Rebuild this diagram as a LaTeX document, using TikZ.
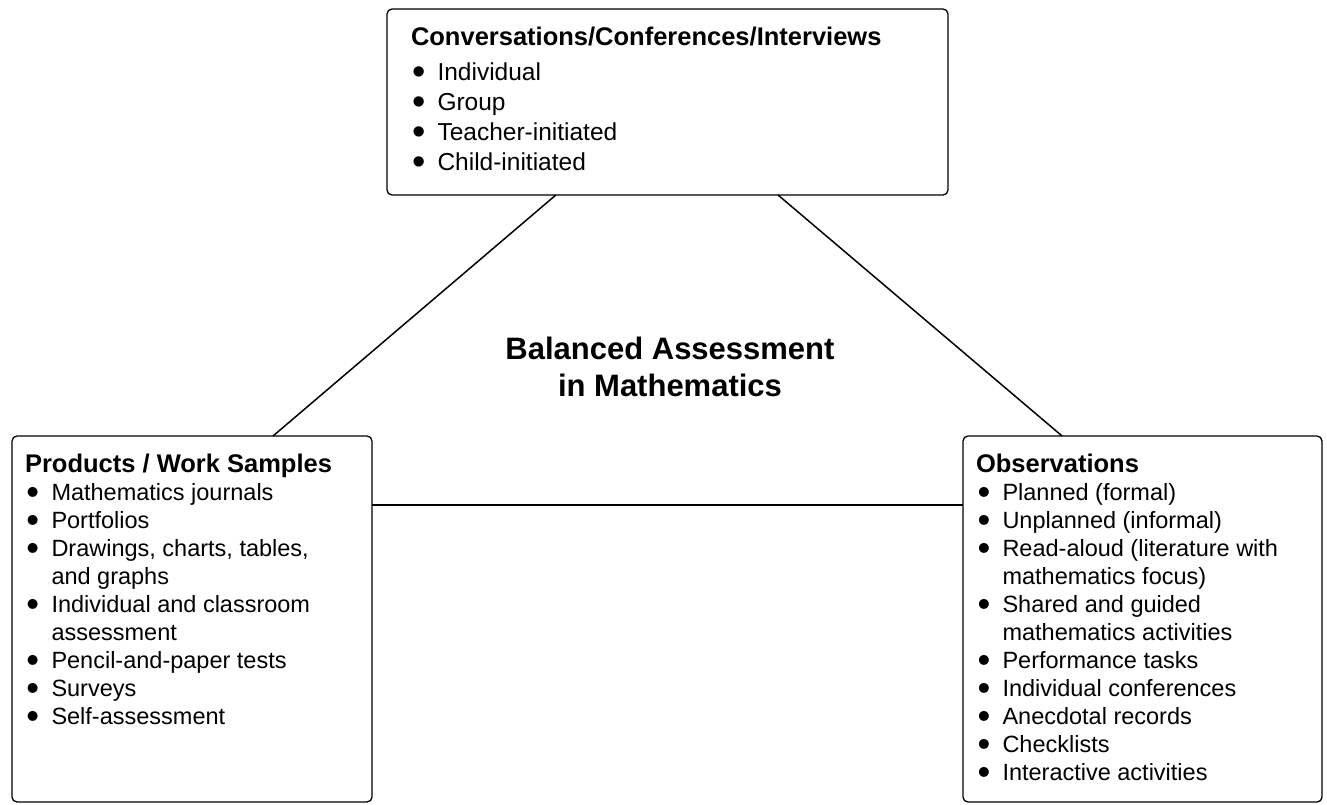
\documentclass[tikz,border=0pt]{standalone}
\usepackage{fontspec}
\setmainfont{Liberation Sans}
\usepackage{graphicx}
\usetikzlibrary{calc}
\newcommand{\bigbul}{\smash{\raisebox{-4pt}{\scalebox{1.55}{\textbullet}}}}
\newcommand{\bitem}[1]{\makebox[26.5pt][l]{\hspace{1.5pt}\bigbul}#1}
\newcommand{\bcont}[1]{\hspace{26.5pt}#1}
\begin{document}
\begin{tikzpicture}[x=1pt,y=-1pt,
  box/.style={draw, rounded corners=5pt, line width=1.3pt, minimum width=#1, inner sep=0pt, outer sep=0pt, anchor=north west},
  conn/.style={line width=1.5pt},
  listtext/.style={anchor=base west, inner sep=0pt, outer sep=0pt}]
\useasboundingbox (0,0) rectangle (1327,804);
% boxes
\node[box=561pt, minimum height=186pt] (top) at (387,9) {};
\node[box=360pt, minimum height=366pt] (left) at (12,436) {};
\node[box=359pt, minimum height=366pt] (right) at (963,436) {};
% connectors
\draw[conn] ($(top.south west)!0.301!(top.south east)$) -- ($(left.north west)!0.725!(left.north east)$);
\draw[conn] ($(top.south west)!0.697!(top.south east)$) -- ($(right.north west)!0.276!(right.north east)$);
\coordinate (hl) at ($(left.north east)!0.1885!(left.south east)$);
\draw[conn] (hl) -- (hl -| right.west);
% title
\node[anchor=base, inner sep=0pt] (title) at (670,359)
  {\fontsize{31}{37}\selectfont\bfseries\begin{tabular}[t]{@{}c@{}}Balanced Assessment\\ in Mathematics\end{tabular}};
% top list
\node[listtext] (toptext) at (411,45) {\fontsize{24.5}{30}\selectfont
\begin{tabular}[t]{@{}l@{}}
{\fontsize{25.5}{30}\selectfont\bfseries Conversations/Conferences/Interviews}\\[5pt]
\bitem{Individual}\\
\bitem{Group}\\
\bitem{Teacher-initiated}\\
\bitem{Child-initiated}
\end{tabular}};
% left list
\node[listtext] (lefttext) at (25,472) {\fontsize{23.5}{28}\selectfont
\begin{tabular}[t]{@{}l@{}}
{\fontsize{25.5}{28}\selectfont\bfseries Products / Work Samples}\\
\bitem{Mathematics journals}\\
\bitem{Portfolios}\\
\bitem{Drawings, charts, tables,}\\
\bcont{and graphs}\\
\bitem{Individual and classroom}\\
\bcont{assessment}\\
\bitem{Pencil-and-paper tests}\\
\bitem{Surveys}\\
\bitem{Self-assessment}
\end{tabular}};
% right list
\node[listtext] (righttext) at (976,472) {\fontsize{23.5}{28}\selectfont
\begin{tabular}[t]{@{}l@{}}
{\fontsize{25.5}{28}\selectfont\bfseries Observations}\\
\bitem{Planned (formal)}\\
\bitem{Unplanned (informal)}\\
\bitem{Read-aloud (literature with}\\
\bcont{mathematics focus)}\\
\bitem{Shared and guided}\\
\bcont{mathematics activities}\\
\bitem{Performance tasks}\\
\bitem{Individual conferences}\\
\bitem{Anecdotal records}\\
\bitem{Checklists}\\
\bitem{Interactive activities}
\end{tabular}};
\end{tikzpicture}
\end{document}
